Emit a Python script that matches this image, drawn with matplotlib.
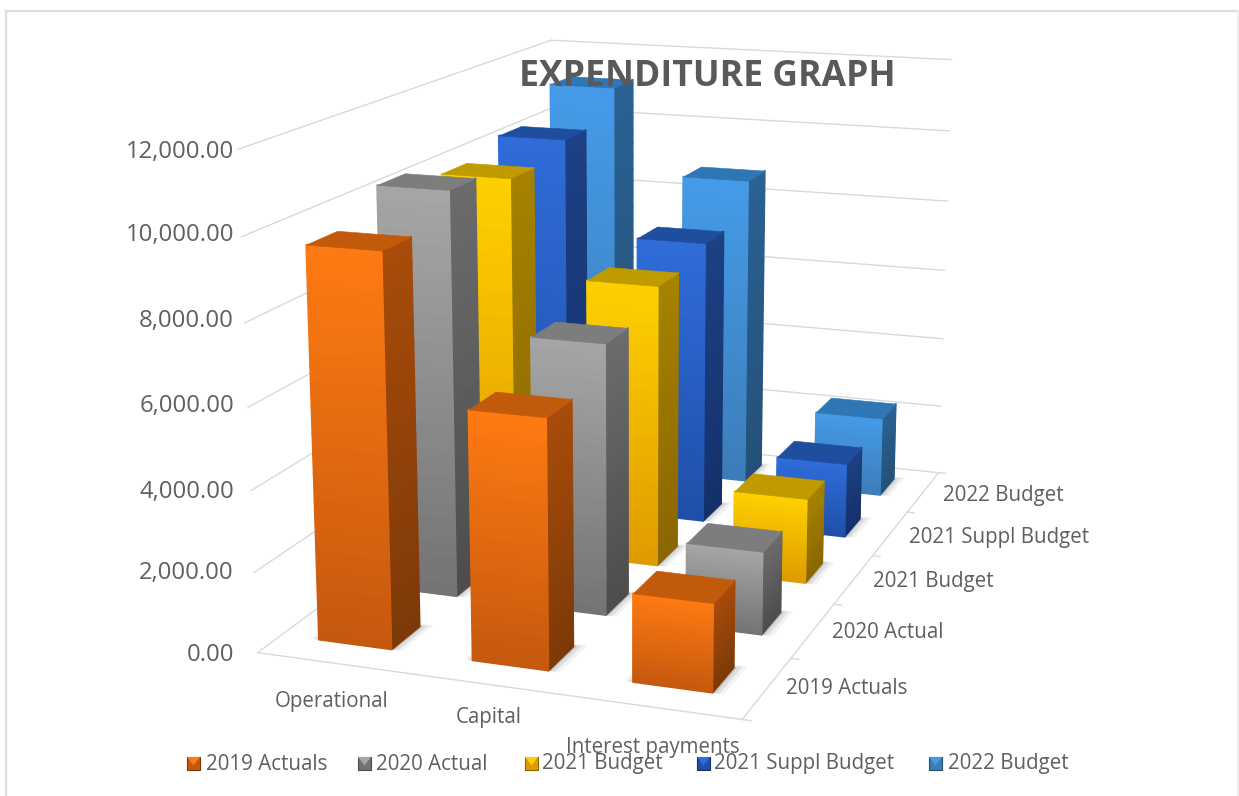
import numpy as np
import matplotlib
matplotlib.use("Agg")
import matplotlib.pyplot as plt
from matplotlib.lines import Line2D
from matplotlib.patches import Polygon, Rectangle
from mpl_toolkits.mplot3d.art3d import Poly3DCollection

W, H = 1239, 796

categories = ["Operational", "Capital", "Interest payments"]
series = ["2019 Actuals", "2020 Actual", "2021 Budget", "2021 Suppl Budget", "2022 Budget"]
z_ticks = [0, 2000, 4000, 6000, 8000, 10000, 12000]

operational = [9640, 10330, 9925, 10290, 11130]
capital = [6090, 6870, 7425, 7740, 8730]
interest = [2150, 2100, 2240, 2035, 2240]
values = [operational, capital, interest]

# front top, front bottom, side top, side bottom, top face
palette = [
    ("#FF7A12", "#C4580E", "#A84C0A", "#7C3907", "#C25A0C"),
    ("#A6A6A6", "#737373", "#6C6C6C", "#4C4C4C", "#7D7D7D"),
    ("#FFD000", "#DE9A00", "#A68200", "#8A6600", "#BF9B00"),
    ("#2F6CD9", "#1F4FA8", "#1D4185", "#14306A", "#1F4E9E"),
    ("#459AE8", "#3C7DB8", "#2B6193", "#245078", "#2F76B5"),
]

TEXT = "#5F5F5F"
GRID = "#D9D9D9"
FONT = ["Open Sans", "DejaVu Sans"]
BAR_W = 0.48
BAR_D = 0.42
BAR_X = 0.488
BAR_Y = 0.53

fig = plt.figure(figsize=(W / 100, H / 100), dpi=100)
ax = fig.add_axes([224.39 / W, 55.6 / H, 796 / W, 796 / H], projection="3d", computed_zorder=False)
ax.set_proj_type("persp", focal_length=0.59)
ax.view_init(elev=14.23, azim=-70.44)
ax.set_box_aspect((0.9937, 1.6026, 1.0), zoom=1.218)
ax.set_axis_off()
ax.patch.set_alpha(0)


def px_text(x, y, s, **kw):
    # labels are placed in figure pixels, y counted from the top
    kw.setdefault("fontsize", 14.8)
    kw.setdefault("color", TEXT)
    kw.setdefault("family", FONT)
    kw.setdefault("va", "center")
    fig.text(x / W, 1 - y / H, s, **kw)


def blend(c1, c2, n):
    a, b = np.array(matplotlib.colors.to_rgb(c1)), np.array(matplotlib.colors.to_rgb(c2))
    t = (np.arange(n) + 0.5) / n
    return [tuple(a + (b - a) * k) for k in t]


def stripes(xa, ya, xb, yb, top, c1, c2, order, n=30):
    # one vertical face, split in bands so the colour runs down the bar
    edges = np.linspace(top, 0, n + 1)
    polys = [[(xa, ya, z0), (xb, yb, z0), (xb, yb, z1), (xa, ya, z1)]
             for z0, z1 in zip(edges[:-1], edges[1:])]
    cols = blend(c1, c2, n)
    ax.add_collection3d(Poly3DCollection(polys, facecolors=cols, edgecolors=cols,
                                         linewidths=1.0, zorder=order))


def draw_bar(cx, cy, value, colors, order):
    x0, x1 = cx - BAR_W / 2, cx + BAR_W / 2
    y0, y1 = cy - BAR_D / 2, cy + BAR_D / 2
    # soft contact shadow on the floor
    for grow, alpha in [(0.05, 0.06), (0.03, 0.10), (0.012, 0.16)]:
        rect = [[(x0 - grow, y0, 0), (x1 + grow * 1.4, y0, 0),
                 (x1 + grow * 1.4, y1 + grow, 0), (x0 - grow, y1 + grow, 0)]]
        ax.add_collection3d(Poly3DCollection(rect, facecolors=(0.2, 0.2, 0.2, alpha),
                                             edgecolors="none", zorder=order))
    ft, fb, st, sb, tp = colors
    stripes(x1, y0, x1, y1, value, st, sb, order + 0.1)
    stripes(x0, y0, x1, y0, value, ft, fb, order + 0.2)
    top = [[(x0, y0, value), (x1, y0, value), (x1, y1, value), (x0, y1, value)]]
    ax.add_collection3d(Poly3DCollection(top, facecolors=tp, edgecolors=tp,
                                         linewidths=0.4, zorder=order + 0.3))


n_cat, n_ser = len(categories), len(series)
z_top = z_ticks[-1]

# walls and floor lines
for z in z_ticks:
    ax.plot([0, 0], [0, n_ser], [z, z], color=GRID, lw=1.0, zorder=1)
    ax.plot([0, n_cat], [n_ser, n_ser], [z, z], color=GRID, lw=1.0, zorder=1)
ax.plot([0, n_cat], [0, 0], [0, 0], color=GRID, lw=1.0, zorder=1)
ax.plot([n_cat, n_cat], [0, n_ser], [0, 0], color=GRID, lw=1.0, zorder=1)
for k in range(n_ser + 1):
    ax.plot([n_cat, n_cat + 0.05], [k, k], [0, 0], color=GRID, lw=1.0, zorder=1)

order = 2
for j in range(n_ser - 1, -1, -1):
    for i in range(n_cat):
        draw_bar(i + BAR_X, j + BAR_Y, values[i][j], palette[j], order)
        order += 1

ax.set_xlim(0, n_cat, view_margin=0)
ax.set_ylim(0, n_ser, view_margin=0)
ax.set_zlim(0, z_top, view_margin=0)

# value, category and series labels
z_label_y = [655, 573, 492, 406, 321, 235, 152]
for v, y in zip(z_ticks, z_label_y):
    px_text(234, y, f"{v:,.2f}", ha="right", fontsize=17.2)
for s, (x, y) in zip(categories, [(332, 701), (489, 718), (653, 748)]):
    px_text(x, y, s, ha="center")
for s, (x, y) in zip(series, [(847, 689), (888, 632), (933, 582), (999, 537), (1003, 496)]):
    px_text(x, y, s, ha="center")

px_text(707, 77, "EXPENDITURE GRAPH", ha="center", fontsize=25.6, fontweight="bold", color="#595959")

# legend row
leg_swatch_x = [187, 358, 525, 697, 929]
leg_text_x = [206, 376, 542, 714, 948]
sw = 13
for s, hx, tx, p in zip(series, leg_swatch_x, leg_text_x, palette):
    y0 = 1 - 770 / H
    fig.add_artist(Rectangle((hx / W, y0), sw / W, sw / H, transform=fig.transFigure,
                             facecolor=p[1], edgecolor=p[3], lw=0.8))
    fig.add_artist(Polygon([(hx / W, y0 + sw / H), ((hx + sw) / W, y0 + sw / H),
                            ((hx + sw / 2) / W, y0 + 0.35 * sw / H)],
                           transform=fig.transFigure, facecolor=p[0], edgecolor="none"))
    px_text(tx, 764, s, ha="left")

# thin frame of the chart area, open at the bottom
for xs, ys, col in [((6, 1238), (11, 11), "#DEDEDE"), ((6, 6), (11, 796), "#DEDEDE"),
                    ((1238, 1238), (11, 796), "#EFEFEF")]:
    fig.add_artist(Line2D([x / W for x in xs], [1 - y / H for y in ys],
                          transform=fig.transFigure, color=col, lw=1.6))

fig.savefig("out.png", dpi=100)
